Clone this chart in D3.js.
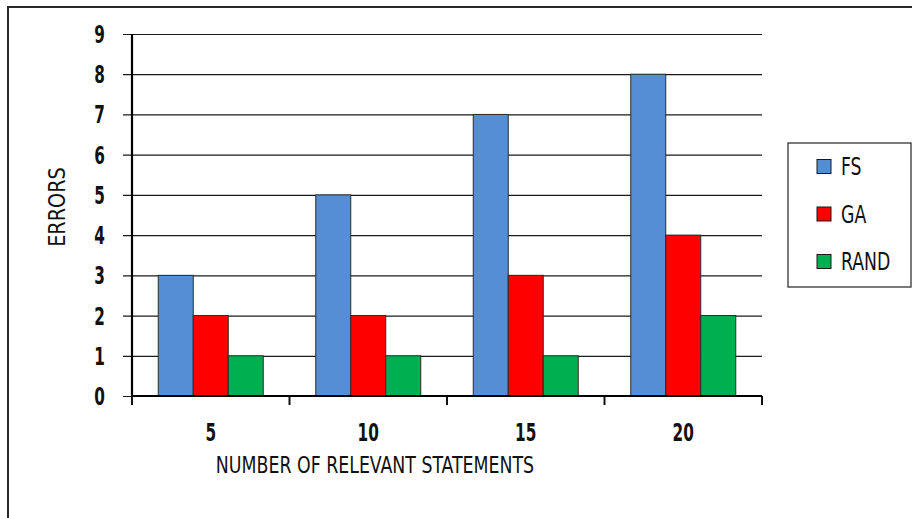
<!DOCTYPE html>
<html>
<head>
<meta charset="utf-8">
<script src="https://cdn.jsdelivr.net/npm/d3@7"></script>
<style>
  html, body { margin: 0; padding: 0; background: #fff; }
  svg { display: block; }
  text { font-family: "Liberation Sans Narrow", "DejaVu Sans Condensed", "Arial Narrow", sans-serif; fill: #111; }
</style>
</head>
<body>
<svg id="chart" width="912" height="518"></svg>
<script>
// Error counts per number of relevant statements, for each method
const categories = ["5", "10", "15", "20"];
const seriesNames = ["FS", "GA", "RAND"];
const fsValues = [3, 5, 7, 8];
const gaValues = [2, 2, 3, 4];
const randValues = [1, 1, 1, 2];
const yTicks = [0, 1, 2, 3, 4, 5, 6, 7, 8, 9];
const seriesColors = ["#558ED5", "#FF0000", "#00B050"];

const seriesValues = [fsValues, gaValues, randValues];

const svg = d3.select("#chart");

// Place a label at (x, y), squeezed horizontally to give a narrow typeface look
function narrowAt(sel, x, y, sx, extra = "") {
  return sel.attr("x", 0).attr("y", 0)
    .attr("transform", (d, i) => {
      const px = typeof x === "function" ? x(d, i) : x;
      const py = typeof y === "function" ? y(d, i) : y;
      return `translate(${px},${py}) ${extra} scale(${sx},1)`;
    });
}

// Outer chart frame (runs past the right and bottom edges)
svg.append("rect")
  .attr("x", 8).attr("y", 7)
  .attr("width", 940).attr("height", 540)
  .attr("fill", "#fff")
  .attr("stroke", "#2a2a2a")
  .attr("stroke-width", 2);

const plot = { left: 132, right: 762, top: 34, bottom: 396 };

const y = d3.scaleLinear().domain([0, 9]).range([plot.bottom, plot.top]);
const x0 = d3.scaleBand().domain(categories).range([plot.left, plot.right]).paddingInner(0).paddingOuter(0);
const x1 = d3.scaleBand().domain(seriesNames).range([0, x0.bandwidth()]).paddingInner(0).paddingOuter(0.75);
const color = d3.scaleOrdinal().domain(seriesNames).range(seriesColors);

// Horizontal gridlines with left tick marks
const yAxis = d3.axisLeft(y).tickValues(yTicks).tickSize(-(plot.right - plot.left)).tickSizeOuter(0).tickFormat("");
const gy = svg.append("g").attr("transform", `translate(${plot.left},0)`).call(yAxis);
gy.select(".domain").remove();
gy.selectAll(".tick line")
  .attr("x1", -9)
  .attr("stroke", "#1a1a1a")
  .attr("stroke-width", 1.2);

// Y tick labels
svg.append("g").selectAll("text")
  .data(yTicks)
  .join("text")
  .call(narrowAt, 105, d => y(d), 0.68)
  .attr("dy", "0.36em")
  .attr("text-anchor", "end")
  .attr("font-size", 25)
  .attr("font-weight", "bold")
  .text(d => d);

// Bars
const groups = svg.append("g").selectAll("g")
  .data(categories)
  .join("g")
  .attr("transform", d => `translate(${x0(d)},0)`);

groups.selectAll("rect")
  .data((c, i) => seriesNames.map((s, j) => ({ s, v: seriesValues[j][i] })))
  .join("rect")
  .attr("x", d => x1(d.s))
  .attr("width", x1.bandwidth())
  .attr("y", d => y(d.v))
  .attr("height", d => y(0) - y(d.v))
  .attr("fill", d => color(d.s))
  .attr("stroke", "#2b2b2b")
  .attr("stroke-width", 1);

// X axis with category ticks at band boundaries
const xBounds = categories.map(c => x0(c)).concat([plot.right]);
svg.append("g").selectAll("line")
  .data(xBounds)
  .join("line")
  .attr("x1", d => d).attr("x2", d => d)
  .attr("y1", plot.bottom).attr("y2", plot.bottom + 9)
  .attr("stroke", "#111").attr("stroke-width", 2);

svg.append("line")
  .attr("x1", plot.left).attr("x2", plot.right)
  .attr("y1", plot.bottom).attr("y2", plot.bottom)
  .attr("stroke", "#000").attr("stroke-width", 2.2);

// Y axis line
svg.append("line")
  .attr("x1", plot.left).attr("x2", plot.left)
  .attr("y1", plot.top).attr("y2", plot.bottom)
  .attr("stroke", "#000").attr("stroke-width", 2.2);

// X tick labels
svg.append("g").selectAll("text")
  .data(categories)
  .join("text")
  .call(narrowAt, d => x0(d) + x0.bandwidth() / 2, 432, 0.68)
  .attr("dy", "0.36em")
  .attr("text-anchor", "middle")
  .attr("font-size", 25)
  .attr("font-weight", "bold")
  .text(d => d);

// Axis titles
svg.append("text")
  .call(narrowAt, 375, 473, 0.84)
  .attr("text-anchor", "middle")
  .attr("font-size", 23)
  .text("NUMBER OF RELEVANT STATEMENTS");

svg.append("text")
  .call(narrowAt, 65, 207, 0.93, "rotate(-90)")
  .attr("text-anchor", "middle")
  .attr("font-size", 23)
  .text("ERRORS");

// Legend
const legend = svg.append("g");
legend.append("rect")
  .attr("x", 788).attr("y", 143)
  .attr("width", 123).attr("height", 144)
  .attr("fill", "#fff")
  .attr("stroke", "#333")
  .attr("stroke-width", 1.3);

const legendY = d3.scalePoint().domain(seriesNames).range([166.5, 261.5]);
const items = legend.selectAll("g.item")
  .data(seriesNames)
  .join("g")
  .attr("class", "item")
  .attr("transform", d => `translate(0,${legendY(d)})`);

items.append("rect")
  .attr("x", 817).attr("y", -7)
  .attr("width", 14).attr("height", 14)
  .attr("fill", d => color(d))
  .attr("stroke", "#1a1a1a")
  .attr("stroke-width", 1);

items.append("text")
  .call(narrowAt, 841, 0, 0.8)
  .attr("dy", "0.36em")
  .attr("font-size", 24)
  .text(d => d);
</script>
</body>
</html>
